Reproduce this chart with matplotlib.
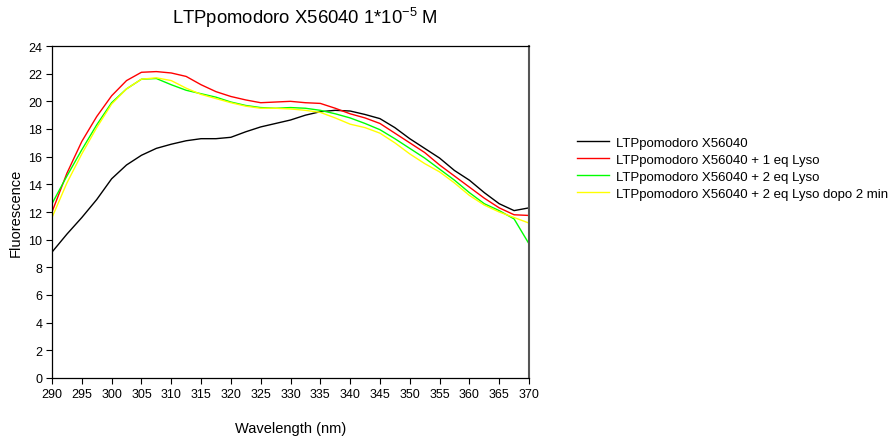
import matplotlib
matplotlib.use("Agg")
import matplotlib.pyplot as plt
import numpy as np

plt.rcParams['font.family'] = ['Liberation Sans', 'DejaVu Sans']

wavelength = [290, 292.5, 295, 297.5, 300, 302.5, 305, 307.5, 310, 312.5, 315, 317.5,
              320, 322.5, 325, 327.5, 330, 332.5, 335, 337.5, 340, 342.5, 345, 347.5,
              350, 352.5, 355, 357.5, 360, 362.5, 365, 367.5, 370]

ltp = [9.1, 10.4, 11.6, 12.9, 14.4, 15.4, 16.1, 16.6, 16.9, 17.15, 17.3, 17.3,
       17.4, 17.8, 18.15, 18.4, 18.65, 19.0, 19.25, 19.35, 19.3, 19.05, 18.75, 18.1,
       17.3, 16.6, 15.9, 15.0, 14.3, 13.4, 12.6, 12.1, 12.3]

ltp_1eq = [12.0, 14.8, 17.1, 18.9, 20.4, 21.5, 22.1, 22.15, 22.05, 21.8, 21.2, 20.7,
           20.35, 20.1, 19.9, 19.95, 20.0, 19.9, 19.85, 19.5, 19.1, 18.8, 18.4, 17.7,
           17.0, 16.3, 15.4, 14.6, 13.8, 13.0, 12.3, 11.8, 11.75]

ltp_2eq = [12.6, 14.6, 16.5, 18.3, 19.9, 20.9, 21.6, 21.65, 21.2, 20.8, 20.55, 20.3,
           19.95, 19.7, 19.55, 19.5, 19.55, 19.5, 19.35, 19.1, 18.8, 18.4, 17.95, 17.3,
           16.6, 15.9, 15.1, 14.3, 13.4, 12.6, 12.1, 11.5, 9.7]

ltp_2eq_2min = [11.6, 14.1, 16.2, 18.1, 19.8, 20.9, 21.6, 21.7, 21.5, 20.95, 20.5, 20.2,
                19.9, 19.65, 19.5, 19.5, 19.45, 19.35, 19.2, 18.8, 18.35, 18.1, 17.7, 17.0,
                16.2, 15.5, 14.9, 14.1, 13.2, 12.5, 12.0, 11.6, 11.2]

labels = ["LTPpomodoro X56040",
          "LTPpomodoro X56040 + 1 eq Lyso",
          "LTPpomodoro X56040 + 2 eq Lyso",
          "LTPpomodoro X56040 + 2 eq Lyso dopo 2 min"]
colors = ["black", "#ff0000", "#00ff00", "#ffff00"]

xticks = list(range(290, 371, 5))
yticks = list(range(0, 25, 2))

fig = plt.figure(figsize=(8.91, 4.39), dpi=100)
ax = fig.add_axes([52/891, 1-379/439, (529-52)/891, (379-47)/439])

series = [ltp, ltp_1eq, ltp_2eq, ltp_2eq_2min]
handles = []
for s, c, lab in zip(series, colors, labels):
    h, = ax.plot(wavelength, s, color=c, lw=1.0, label=lab, solid_joinstyle='round')
    handles.append(h)

ax.set_xlim(290, 370)
ax.set_ylim(0, 24)
ax.set_xticks(xticks)
ax.set_yticks(yticks)
ax.tick_params(direction='out', length=4, width=0.8, labelsize=9, pad=3)
for sp in ax.spines.values():
    sp.set_linewidth(0.9)
ax.spines['right'].set_color('#555555')
ax.spines['right'].set_linewidth(1.5)

ax.set_xlabel("Wavelength (nm)", fontsize=10.5, labelpad=15)
ax.set_ylabel("Fluorescence", fontsize=10.5, labelpad=4)
fig.text(305/891, 1-18/439, "LTPpomodoro X56040 1*10$\\mathregular{^{-5}}$ M",
         fontsize=13.3, ha='center', va='center')

fig.legend(handles=handles, labels=labels, loc='upper left',
           bbox_to_anchor=(565/891, 1-126/439), frameon=False, fontsize=9.5,
           handlelength=2.4, handletextpad=0.6, labelspacing=0.35)

fig.savefig("out.png", dpi=100)
